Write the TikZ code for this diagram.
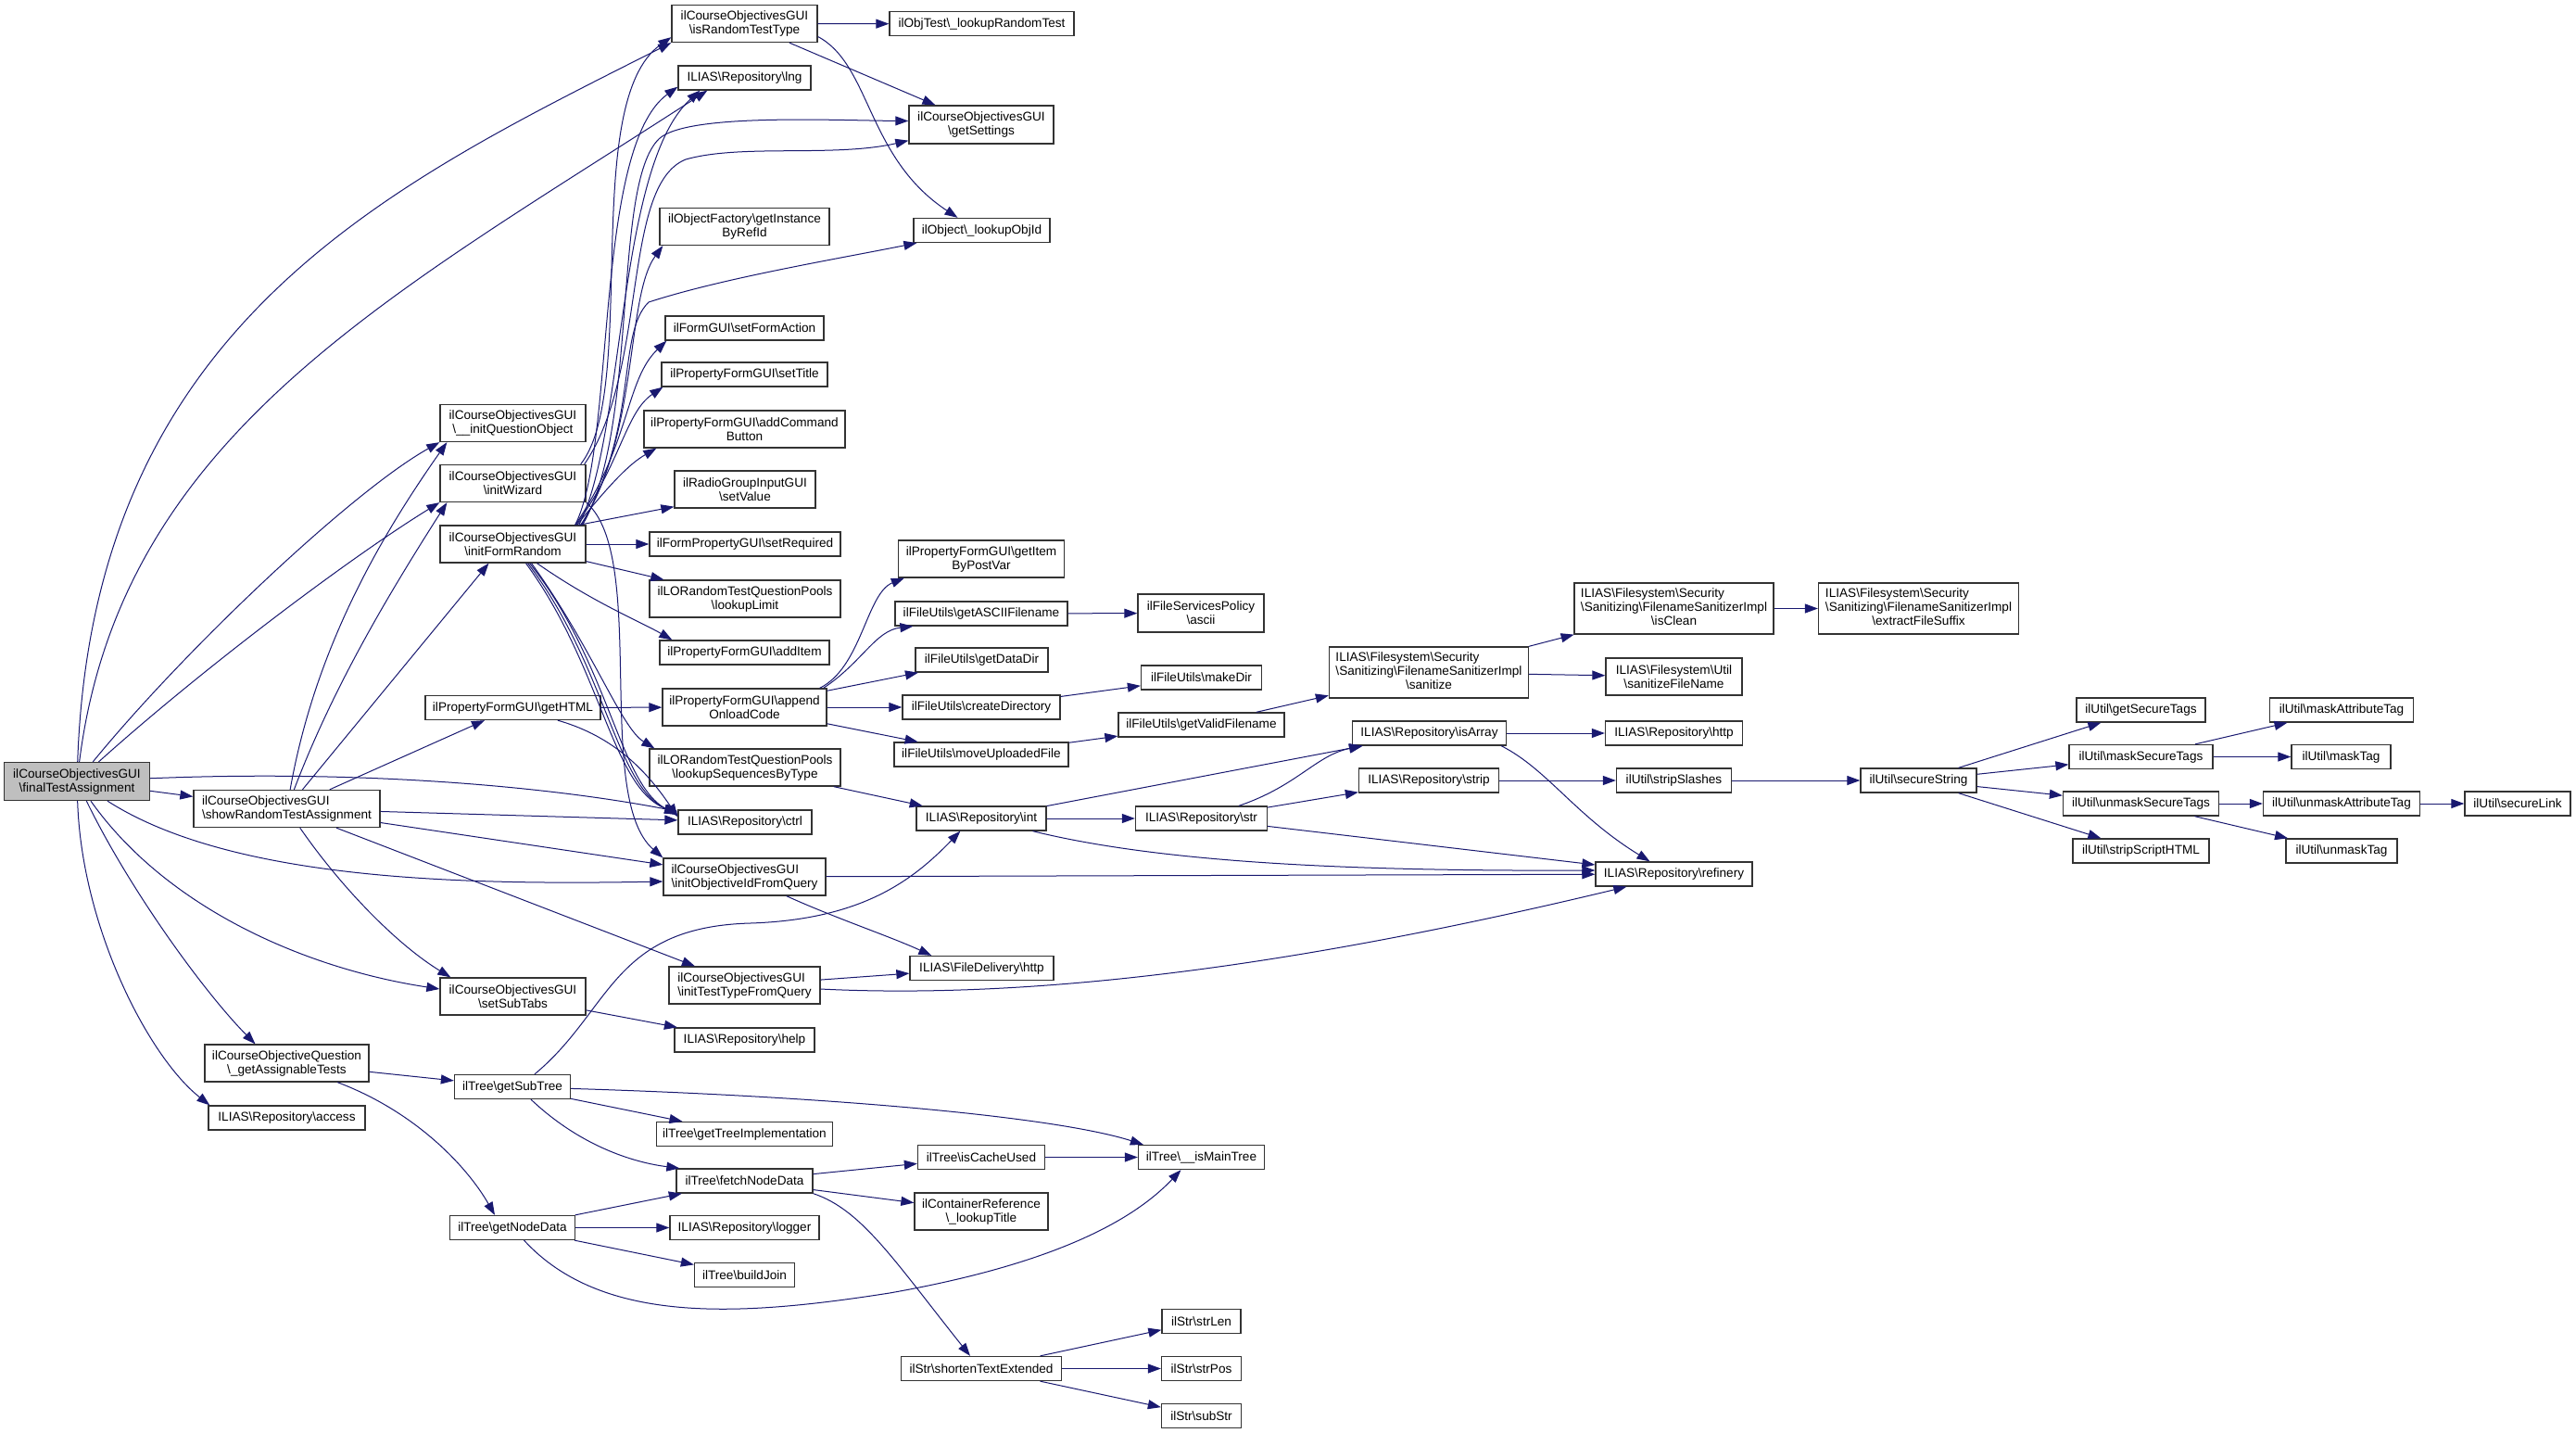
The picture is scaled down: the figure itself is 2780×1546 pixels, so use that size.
\documentclass[tikz,border=0pt]{standalone}
\usepackage{fontspec}
\setmainfont{Liberation Sans}
\usetikzlibrary{arrows.meta}
\definecolor{edgec}{HTML}{191970}
\newcommand{\bsl}{\textbackslash}
\newcommand{\dxfont}{\fontsize{6.8}{7.5}\selectfont}
\tikzset{
  nb/.style={draw=black!80, line width=0.65pt, fill=white, inner sep=0pt, font=\dxfont},
  ac/.style={align=center},
  al/.style={align=left},
  sz/.style 2 args={minimum width=#1*0.5pt, minimum height=#2*0.5pt},
  cl/.style={draw=edgec, line width=0.5pt, -{Triangle[length=7pt,width=5pt]}},
}
\begin{document}
\begin{tikzpicture}[x=0.5pt,y=-0.5pt]
\useasboundingbox (0,0) rectangle (2780,1546);
\fill[white] (0,0) rectangle (2780,1546);
% column 0-2
\node[nb,ac,sz={157}{41},fill=gray!50] (F) at (83,843) {ilCourseObjectivesGUI\\\bsl finalTestAssignment};
\node[nb,al,sz={201}{40}] (S) at (309.5,872.5) {ilCourseObjectivesGUI\\\bsl showRandomTestAssignment};
\node[nb,ac,sz={177}{40}] (GAT) at (309.5,1147) {ilCourseObjectiveQuestion\\\bsl\_getAssignableTests};
\node[nb,sz={169}{26}] (ACC) at (309.5,1206) {ILIAS\bsl Repository\bsl access};
\node[nb,ac,sz={157}{40}] (IQO) at (553.5,456.5) {ilCourseObjectivesGUI\\\bsl\_\_initQuestionObject};
\node[nb,ac,sz={157}{40}] (IW) at (553.5,521.5) {ilCourseObjectivesGUI\\\bsl initWizard};
\node[nb,ac,sz={157}{40}] (IFR) at (553.5,587) {ilCourseObjectivesGUI\\\bsl initFormRandom};
\node[nb,sz={189}{26}] (GH) at (553.5,763.5) {ilPropertyFormGUI\bsl getHTML};
\node[nb,ac,sz={157}{40}] (SST) at (553.5,1075) {ilCourseObjectivesGUI\\\bsl setSubTabs};
\node[nb,sz={125}{26}] (GSB) at (553,1172.5) {ilTree\bsl getSubTree};
\node[nb,sz={135}{26}] (GND) at (553,1324.5) {ilTree\bsl getNodeData};
% column 3
\node[nb,ac,sz={157}{40}] (IRT) at (803.5,25.5) {ilCourseObjectivesGUI\\\bsl isRandomTestType};
\node[nb,sz={143}{26}] (LNG) at (803.5,84) {ILIAS\bsl Repository\bsl lng};
\node[nb,ac,sz={183}{40}] (GIR) at (803.5,244.5) {ilObjectFactory\bsl getInstance\\ByRefId};
\node[nb,sz={171}{26}] (SFA) at (803.5,354) {ilFormGUI\bsl setFormAction};
\node[nb,sz={179}{26}] (STI) at (803.5,404) {ilPropertyFormGUI\bsl setTitle};
\node[nb,ac,sz={217}{40}] (ACB) at (803.5,463) {ilPropertyFormGUI\bsl addCommand\\Button};
\node[nb,ac,sz={152}{40}] (SV) at (804,528) {ilRadioGroupInputGUI\\\bsl setValue};
\node[nb,sz={206}{26}] (SR) at (804,587) {ilFormPropertyGUI\bsl setRequired};
\node[nb,ac,sz={206}{40}] (LL) at (804,646) {ilLORandomTestQuestionPools\\\bsl lookupLimit};
\node[nb,sz={183}{26}] (AI) at (803.5,704) {ilPropertyFormGUI\bsl addItem};
\node[nb,ac,sz={177}{40}] (AOC) at (803.5,763) {ilPropertyFormGUI\bsl append\\OnloadCode};
\node[nb,ac,sz={206}{40}] (LSBT) at (804,828) {ilLORandomTestQuestionPools\\\bsl lookupSequencesByType};
\node[nb,sz={144}{26}] (CTRL) at (804,887) {ILIAS\bsl Repository\bsl ctrl};
\node[nb,al,sz={175}{40}] (IOQ) at (803.5,946) {ilCourseObjectivesGUI\\\bsl initObjectiveIdFromQuery};
\node[nb,al,sz={163}{40}] (ITQ) at (803.5,1063) {ilCourseObjectivesGUI\\\bsl initTestTypeFromQuery};
\node[nb,sz={151}{26}] (HELP) at (803.5,1122) {ILIAS\bsl Repository\bsl help};
\node[nb,sz={190}{26}] (GTI) at (803.5,1223.5) {ilTree\bsl getTreeImplementation};
\node[nb,sz={147}{26}] (FND) at (803.5,1274) {ilTree\bsl fetchNodeData};
\node[nb,sz={161}{26}] (LOG) at (803.5,1324.5) {ILIAS\bsl Repository\bsl logger};
\node[nb,sz={108}{26}] (BJ) at (803.5,1375.5) {ilTree\bsl buildJoin};
% column 4
\node[nb,sz={199}{26}] (LRT) at (1059.5,25.8) {ilObjTest\bsl\_lookupRandomTest};
\node[nb,ac,sz={156}{41}] (GS) at (1059,134.5) {ilCourseObjectivesGUI\\\bsl getSettings};
\node[nb,sz={147}{26}] (LOI) at (1059.5,248.5) {ilObject\bsl\_lookupObjId};
\node[nb,ac,sz={179}{40}] (GIPV) at (1059,603) {ilPropertyFormGUI\bsl getItem\\ByPostVar};
\node[nb,sz={186}{26}] (GAF) at (1059,662) {ilFileUtils\bsl getASCIIFilename};
\node[nb,sz={143}{26}] (GDD) at (1059.5,712) {ilFileUtils\bsl getDataDir};
\node[nb,sz={170}{26}] (CD) at (1059,763) {ilFileUtils\bsl createDirectory};
\node[nb,sz={188}{26}] (MUF) at (1059,814) {ilFileUtils\bsl moveUploadedFile};
\node[nb,sz={140}{26}] (INT) at (1059,883) {ILIAS\bsl Repository\bsl int};
\node[nb,sz={155}{26}] (FDH) at (1059.5,1044.5) {ILIAS\bsl FileDelivery\bsl http};
\node[nb,sz={137}{26}] (ICU) at (1059,1248.5) {ilTree\bsl isCacheUsed};
\node[nb,ac,sz={144}{40}] (LT) at (1059,1307) {ilContainerReference\\\bsl\_lookupTitle};
\node[nb,sz={173}{26}] (STE) at (1059,1476.5) {ilStr\bsl shortenTextExtended};
% column 5
\node[nb,ac,sz={136}{41}] (ASC) at (1296,661.5) {ilFileServicesPolicy\\\bsl ascii};
\node[nb,sz={130}{26}] (MKD) at (1296.5,731) {ilFileUtils\bsl makeDir};
\node[nb,sz={179}{26}] (GVF) at (1296.5,782) {ilFileUtils\bsl getValidFilename};
\node[nb,sz={142}{26}] (STR) at (1296.5,883) {ILIAS\bsl Repository\bsl str};
\node[nb,sz={136}{26}] (IMT) at (1296.5,1248.5) {ilTree\bsl\_\_isMainTree};
\node[nb,sz={85}{26}] (SLEN) at (1296.5,1425.5) {ilStr\bsl strLen};
\node[nb,sz={86}{26}] (SPOS) at (1296.5,1476.5) {ilStr\bsl strPos};
\node[nb,sz={86}{26}] (SSUB) at (1296.5,1527.5) {ilStr\bsl subStr};
% column 6
\node[nb,sz={215}{55}] (SAN) at (1542,725.5) {\begin{tabular}{@{}l@{}}ILIAS\bsl Filesystem\bsl Security\\\bsl Sanitizing\bsl FilenameSanitizerImpl\\\multicolumn{1}{@{}c@{}}{\bsl sanitize}\end{tabular}};
\node[nb,sz={166}{26}] (ISA) at (1542.5,791) {ILIAS\bsl Repository\bsl isArray};
\node[nb,sz={151}{26}] (STRP) at (1542,842) {ILIAS\bsl Repository\bsl strip};
% column 7
\node[nb,sz={215}{55}] (ISC) at (1806.5,656.5) {\begin{tabular}{@{}l@{}}ILIAS\bsl Filesystem\bsl Security\\\bsl Sanitizing\bsl FilenameSanitizerImpl\\\multicolumn{1}{@{}c@{}}{\bsl isClean}\end{tabular}};
\node[nb,ac,sz={147}{40}] (SFN) at (1806.5,730) {ILIAS\bsl Filesystem\bsl Util\\\bsl sanitizeFileName};
\node[nb,sz={148}{26}] (HTTP) at (1806.5,791) {ILIAS\bsl Repository\bsl http};
\node[nb,sz={124}{26}] (SSL) at (1806.5,842) {ilUtil\bsl stripSlashes};
\node[nb,sz={169}{26}] (REF) at (1806.5,943) {ILIAS\bsl Repository\bsl refinery};
% column 8
\node[nb,sz={216}{55}] (EFS) at (2070.5,656.5) {\begin{tabular}{@{}l@{}}ILIAS\bsl Filesystem\bsl Security\\\bsl Sanitizing\bsl FilenameSanitizerImpl\\\multicolumn{1}{@{}c@{}}{\bsl extractFileSuffix}\end{tabular}};
\node[nb,sz={125}{26}] (SEC) at (2070.5,842) {ilUtil\bsl secureString};
% column 9-11
\node[nb,sz={139}{26}] (GSTG) at (2310.5,766) {ilUtil\bsl getSecureTags};
\node[nb,sz={155}{26}] (MST) at (2310.5,816.5) {ilUtil\bsl maskSecureTags};
\node[nb,sz={168}{26}] (UST) at (2310.5,867) {ilUtil\bsl unmaskSecureTags};
\node[nb,sz={147}{26}] (SSH) at (2310.5,918) {ilUtil\bsl stripScriptHTML};
\node[nb,sz={155}{26}] (MAT) at (2527,766) {ilUtil\bsl maskAttributeTag};
\node[nb,sz={107}{26}] (MT) at (2526.5,816.5) {ilUtil\bsl maskTag};
\node[nb,sz={169}{26}] (UAT) at (2527,867) {ilUtil\bsl unmaskAttributeTag};
\node[nb,sz={120}{26}] (UT) at (2527,918) {ilUtil\bsl unmaskTag};
\node[nb,sz={114}{26}] (SL) at (2717,867) {ilUtil\bsl secureLink};

% edges from finalTestAssignment
\draw[cl] (F) -- (S);
\draw[cl] (F) .. controls (100,350) and (420,200) .. (IRT.south west);
\draw[cl] (F) .. controls (130,470) and (420,320) .. ([xshift=16pt]LNG.south west);
\draw[cl] (F) .. controls (200,700) and (380,530) .. (IQO.south west);
\draw[cl] (F) .. controls (220,720) and (380,600) .. (IW.south west);
\draw[cl] (F) .. controls (400,830) and (600,850) .. ([yshift=-1pt]CTRL.north west);
\draw[cl] (F) .. controls (250,950) and (500,955) .. ([yshift=-2.5pt]IOQ.west);
\draw[cl] (F) .. controls (180,980) and (330,1045) .. ([yshift=4pt]SST.west);
\draw[cl] (F) .. controls (140,960) and (220,1070) .. ([xshift=-17pt]GAT.north);
\draw[cl] (F) .. controls (88,1000) and (160,1140) .. ([xshift=1pt]ACC.north west);
% showRandomTestAssignment
\draw[cl] (S) .. controls (340,700) and (410,580) .. ([xshift=4pt]IQO.south west);
\draw[cl] (S) .. controls (360,740) and (420,640) .. ([xshift=4pt]IW.south west);
\draw[cl] (S) -- ([xshift=-13pt]IFR.south);
\draw[cl] (S) -- (GH);
\draw[cl] (S) -- (CTRL);
\draw[cl] (S) -- (IOQ);
\draw[cl] (S) -- (ITQ);
\draw[cl] (S) .. controls (370,960) and (430,1020) .. ([xshift=6pt]SST.north west);
% initWizard
\draw[cl] ([xshift=-3pt]IW.north east) .. controls (690,420) and (625,110) .. ([yshift=3pt]IRT.south west);
\draw[cl] ([xshift=-1pt]IW.north east) .. controls (700,400) and (670,200) .. (740,172) .. controls (800,155) and (900,170) .. ([yshift=2pt]GS.south west);
\draw[cl] (IW.south east) .. controls (700,600) and (640,860) .. (IOQ.north west);
% initFormRandom
\draw[cl] ([xshift=-6pt]IFR.north east) .. controls (665,480) and (640,160) .. ([yshift=2pt]LNG.south west);
\draw[cl] ([xshift=-4pt]IFR.north east) .. controls (675,470) and (665,180) .. ([xshift=12pt]LNG.south west);
\draw[cl] ([xshift=-2pt]IFR.north east) .. controls (690,460) and (660,200) .. (711,150) .. controls (740,122) and (900,130) .. ([yshift=2pt]GS.west);
\draw[cl] ([xshift=-3pt]IFR.north east) .. controls (690,470) and (675,320) .. ([xshift=2pt]GIR.south west);
\draw[cl] ([xshift=-2.5pt]IFR.north east) .. controls (690,460) and (665,360) .. (700,326) .. controls (780,300) and (900,280) .. ([xshift=2pt]LOI.south west);
\draw[cl] ([xshift=-6pt]IFR.north east) .. controls (680,480) and (675,410) .. ([xshift=1pt]SFA.south west);
\draw[cl] ([xshift=-5.5pt]IFR.north east) .. controls (670,500) and (675,445) .. ([xshift=1pt]STI.south west);
\draw[cl] ([xshift=-5pt]IFR.north east) .. controls (660,520) and (680,500) .. ([xshift=7pt]ACB.south west);
\draw[cl] ([xshift=-4pt]IFR.north east) -- ([yshift=1pt]SV.south west);
\draw[cl] (IFR) -- (SR);
\draw[cl] (IFR) -- (LL);
\draw[cl] ([xshift=13pt]IFR.south) .. controls (640,650) and (690,670) .. ([xshift=7pt]AI.north west);
\draw[cl] ([xshift=10pt]IFR.south) .. controls (640,700) and (670,785) .. ([xshift=3pt]LSBT.north west);
\draw[cl] ([xshift=7pt]IFR.south) .. controls (650,720) and (660,850) .. ([yshift=-2pt]CTRL.north west);
\draw[cl] ([xshift=8pt]IFR.south) .. controls (654,718) and (664,848) .. ([yshift=-2.5pt]CTRL.north west);
\draw[cl] ([xshift=9pt]IFR.south) .. controls (658,716) and (668,846) .. ([yshift=-3pt]CTRL.north west);
% getHTML
\draw[cl] (GH) -- (AOC);
\draw[cl] (GH) .. controls (665,795) and (700,835) .. ([yshift=-4pt]CTRL.north west);
% appendOnloadCode
\draw[cl] ([xshift=-4pt]AOC.north east) .. controls (930,720) and (935,640) .. ([xshift=3.5pt]GIPV.south west);
\draw[cl] ([xshift=-2pt]AOC.north east) .. controls (930,715) and (945,680) .. ([xshift=10pt]GAF.south west);
\draw[cl] (AOC) -- (GDD);
\draw[cl] (AOC) -- (CD);
\draw[cl] (AOC) -- (MUF);
% misc column 3
\draw[cl] (LSBT) -- (INT);
\draw[cl] (IOQ) -- (REF);
\draw[cl] (IOQ) .. controls (900,990) and (960,1010) .. ([xshift=12pt]FDH.north west);
\draw[cl] (ITQ) -- (FDH);
\draw[cl] (ITQ) .. controls (1150,1080) and (1450,1030) .. ([xshift=17pt]REF.south west);
\draw[cl] (SST) -- (HELP);
% tree part
\draw[cl] (GAT) -- (GSB);
\draw[cl] (GAT) .. controls (450,1200) and (505,1260) .. ([xshift=-9.5pt]GND.north);
\draw[cl] ([xshift=12pt]GSB.north) .. controls (660,1090) and (660,1000) .. (810,996) .. controls (930,992) and (985,950) .. ([xshift=24pt]INT.south west);
\draw[cl] (GSB) -- (GTI);
\draw[cl] ([xshift=10pt]GSB.south) .. controls (630,1240) and (690,1255) .. ([xshift=2pt]FND.north west);
\draw[cl] (GSB) .. controls (900,1183) and (1140,1205) .. ([xshift=3pt]IMT.north west);
\draw[cl] (GND) -- (FND);
\draw[cl] (GND) -- (LOG);
\draw[cl] (GND) -- (BJ);
\draw[cl] (GND) .. controls (650,1430) and (800,1420) .. (960,1395) .. controls (1130,1365) and (1220,1320) .. ([xshift=-11pt]IMT.south);
\draw[cl] (FND) -- (ICU);
\draw[cl] (FND) -- (LT);
\draw[cl] (FND.south east) .. controls (930,1305) and (965,1360) .. ([xshift=-6pt]STE.north);
\draw[cl] (ICU) -- (IMT);
\draw[cl] (STE) -- (SLEN);
\draw[cl] (STE) -- (SPOS);
\draw[cl] (STE) -- (SSUB);
% file utils part
\draw[cl] (GAF) -- (ASC);
\draw[cl] (CD) -- (MKD);
\draw[cl] (MUF) -- (GVF);
\draw[cl] (GVF) -- (SAN);
\draw[cl] (SAN) -- (ISC);
\draw[cl] (SAN) -- (SFN);
\draw[cl] (ISC) -- (EFS);
% repository part
\draw[cl] (INT) -- (ISA);
\draw[cl] (INT) -- (STR);
\draw[cl] (INT) .. controls (1250,930) and (1450,940) .. ([yshift=2pt]REF.west);
\draw[cl] (STR) .. controls (1400,848) and (1420,815) .. ([xshift=5.5pt]ISA.south west);
\draw[cl] (STR) -- (STRP);
\draw[cl] (STR) -- (REF);
\draw[cl] (ISA) -- (HTTP);
\draw[cl] ([xshift=-3pt]ISA.south east) .. controls (1670,830) and (1700,880) .. ([xshift=-13pt]REF.north);
\draw[cl] (STRP) -- (SSL);
\draw[cl] (SSL) -- (SEC);
% ilUtil part
\draw[cl] (SEC) -- (GSTG);
\draw[cl] (SEC) -- (MST);
\draw[cl] (SEC) -- (UST);
\draw[cl] (SEC) -- (SSH);
\draw[cl] (MST) -- (MAT);
\draw[cl] (MST) -- (MT);
\draw[cl] (UST) -- (UAT);
\draw[cl] (UST) -- (UT);
\draw[cl] (UAT) -- (SL);
% isRandomTestType
\draw[cl] (IRT) -- (LRT);
\draw[cl] (IRT) -- (GS);
\draw[cl] ([yshift=-7pt]IRT.east) .. controls (940,70) and (935,170) .. ([xshift=-13pt]LOI.north);
\end{tikzpicture}
\end{document}
